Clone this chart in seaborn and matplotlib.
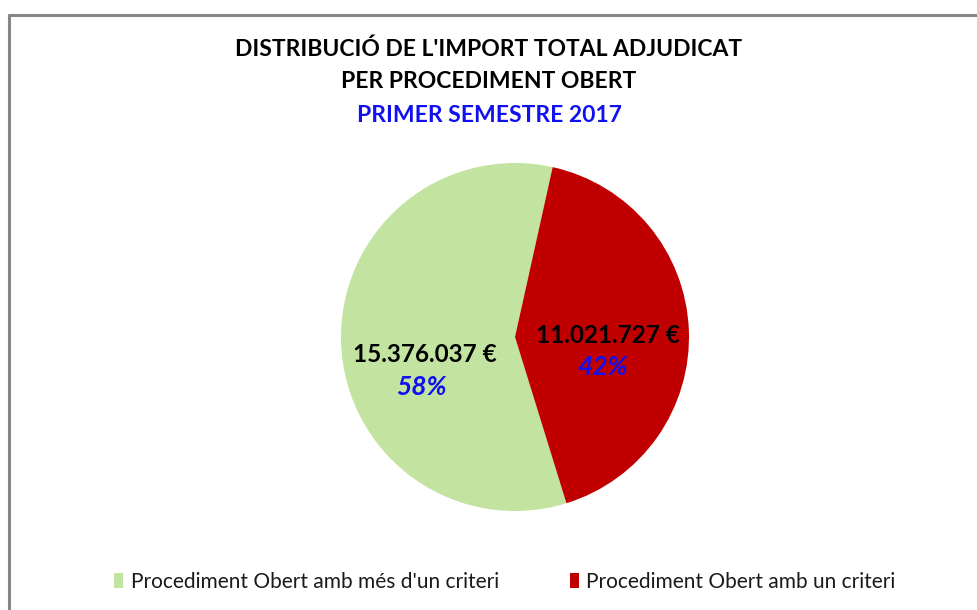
import matplotlib
matplotlib.use("Agg")
import matplotlib.pyplot as plt
import seaborn as sns
from matplotlib.lines import Line2D

# data
categories = ["Procediment Obert amb més d'un criteri", "Procediment Obert amb un criteri"]
imports = [15376037, 11021727]
value_labels = ["15.376.037 €", "11.021.727 €"]
pct_labels = ["58%", "42%"]

sns.set_theme(style="white")
plt.rcParams['font.family'] = ['Lato', 'DejaVu Sans']

colors = ["#C3E3A0", "#C00000"]
blue = "#1010F0"

fig = plt.figure(figsize=(9.78, 6.10), dpi=100)

# outer frame (gray, left and top only visible)
fig.add_artist(Line2D([9/978, 9/978], [0, 1 - 15/610], color="#868686", lw=2.2, transform=fig.transFigure))
fig.add_artist(Line2D([9/978, 1], [1 - 15/610, 1 - 15/610], color="#868686", lw=2.2, transform=fig.transFigure))

# title
fig.text(0.5, 1 - 49/610, "DISTRIBUCIÓ DE L'IMPORT TOTAL ADJUDICAT", ha="center", va="center",
         fontsize=16.5, fontweight="bold", color="black")
fig.text(0.5, 1 - 81/610, "PER PROCEDIMENT OBERT", ha="center", va="center",
         fontsize=16.5, fontweight="bold", color="black")
fig.text(0.5, 1 - 115/610, "PRIMER SEMESTRE 2017", ha="center", va="center",
         fontsize=16.5, fontweight="bold", color=blue)

# pie
cx, cy, r = 515, 337, 174
ax = fig.add_axes([(cx - r) / 978, (610 - cy - r) / 610, 2 * r / 978, 2 * r / 610])
total = sum(imports)
red_deg = imports[1] / total * 360
start = 90 - 12.5 - red_deg
wedges, _ = ax.pie(imports, colors=colors, startangle=start, counterclock=False,
                   radius=1, wedgeprops=dict(linewidth=0))
ax.set_xlim(-1, 1)
ax.set_ylim(-1, 1)
ax.set_aspect("equal")
ax.axis("off")

val_pos = [(-0.52, -0.10), (0.535, 0.01)]
pct_pos = [(-0.54, -0.29), (0.506, -0.175)]
for (vx, vy), (px, py), v, p in zip(val_pos, pct_pos, value_labels, pct_labels):
    ax.text(vx, vy, v, ha="center", va="center", fontsize=17.5, fontweight="bold", color="black")
    ax.text(px, py, p, ha="center", va="center", fontsize=19, fontweight="bold",
            fontstyle="italic", color=blue)

# legend
leg = fig.legend(wedges, categories, loc="center", bbox_to_anchor=(0.516, 1 - 582/610),
                 ncol=2, frameon=False, fontsize=15, handlelength=0.45, handleheight=0.75,
                 handletextpad=0.35, columnspacing=3.4, labelcolor="#1a1a1a")

fig.savefig("out.png", dpi=100, facecolor="white")
